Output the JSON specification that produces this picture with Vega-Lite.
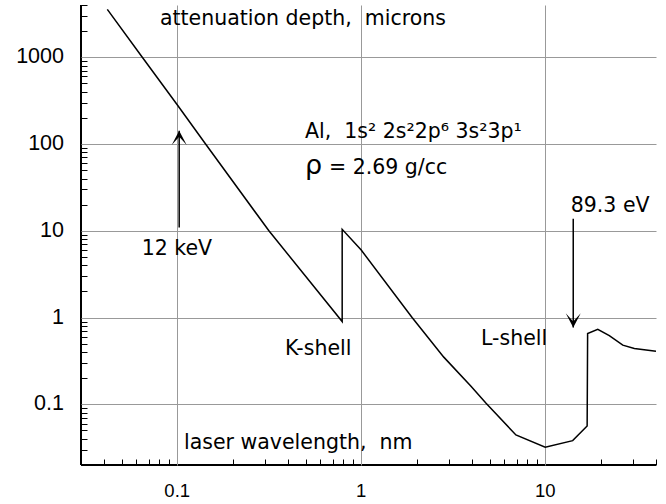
{
  "$schema": "https://vega.github.io/schema/vega-lite/v6.json",
  "width": 575,
  "height": 460,
  "autosize": {"type": "none"},
  "padding": {"left": 81, "top": 5, "right": 10, "bottom": 39},
  "background": "white",
  "config": {"view": {"stroke": null}, "font": "DejaVu Sans"},
  "datasets": {
    "curve": [
      {"x": 0.0417, "y": 3565},
      {"x": 0.0646, "y": 1000},
      {"x": 0.1, "y": 283},
      {"x": 0.1426, "y": 100},
      {"x": 0.315, "y": 10},
      {"x": 0.788, "y": 0.9},
      {"x": 0.788, "y": 10.4},
      {"x": 1, "y": 6.0},
      {"x": 1.89, "y": 1},
      {"x": 2.81, "y": 0.35},
      {"x": 3.95, "y": 0.162},
      {"x": 4.77, "y": 0.103},
      {"x": 6.93, "y": 0.0444},
      {"x": 10, "y": 0.032},
      {"x": 14.1, "y": 0.0382},
      {"x": 16.9, "y": 0.0563},
      {"x": 17.0, "y": 0.655},
      {"x": 19.3, "y": 0.734},
      {"x": 22.3, "y": 0.62},
      {"x": 26.4, "y": 0.481},
      {"x": 30.5, "y": 0.44},
      {"x": 40, "y": 0.41}
    ],
    "labels": [
      {"x": 0.0806, "y": 2355, "t": "attenuation depth,\u00a0 microns"},
      {"x": 0.495, "y": 117.5, "t": "Al,\u00a0 1s² 2s²2p⁶ 3s²3p¹"},
      {"x": 0.668, "y": 45.2, "t": "= 2.69 g/cc"},
      {"x": 0.0641, "y": 5.27, "t": "12 keV"},
      {"x": 13.76, "y": 16.6, "t": "89.3 eV"},
      {"x": 0.3855, "y": 0.371, "t": "K-shell"},
      {"x": 4.48, "y": 0.483, "t": "L-shell"},
      {"x": 0.1089, "y": 0.0303, "t": "laser wavelength,\u00a0 nm"}
    ],
    "symbols": [
      {"x": 0.495, "y": 45.2, "t": "ρ"}
    ],
    "arrows": [
      {"x": 0.1025, "base": 10.9, "tip": 142, "dir": "up"},
      {"x": 14.2, "base": 13.8, "tip": 0.77, "dir": "down"}
    ]
  },
  "resolve": {"axis": {"x": "independent", "y": "independent"}},
  "layer": [
    {
      "data": {"name": "curve"},
      "mark": {"type": "line", "color": "black", "strokeWidth": 1.5},
      "encoding": {
        "x": {
          "field": "x", "type": "quantitative",
          "scale": {"type": "log", "domain": [0.03, 40], "nice": false},
          "axis": {
            "orient": "bottom",
            "title": null,
            "translate": 0,
            "values": [0.1, 1, 10],
            "format": "~g",
            "labelOverlap": false,
            "labelFlush": false,
            "labelFont": "Liberation Sans",
            "labelFontSize": 18.5,
            "labelFontWeight": 400,
            "labelColor": "#000000",
            "labelPadding": 17,
            "ticks": false,
            "tickSize": 0,
            "grid": false,
            "domainColor": "black",
            "domainWidth": 2
          }
        },
        "y": {
          "field": "y", "type": "quantitative",
          "scale": {"type": "log", "domain": [0.02, 4000], "nice": false},
          "axis": {
            "orient": "left",
            "title": null,
            "translate": 0,
            "values": [0.1, 1, 10, 100, 1000],
            "format": "~g",
            "labelOverlap": false,
            "labelFlush": false,
            "labelFont": "Liberation Sans",
            "labelFontSize": 21.5,
            "labelFontWeight": 400,
            "labelColor": "#000000",
            "labelPadding": 17,
            "ticks": false,
            "tickSize": 0,
            "grid": false,
            "domainColor": "black",
            "domainWidth": 2
          }
        },
        "order": {"value": null}
      }
    },
    {
      "data": {"name": "arrows"},
      "mark": {"type": "rule", "color": "black", "strokeWidth": 1.5},
      "encoding": {
        "x": {
          "field": "x", "type": "quantitative",
          "axis": {
            "orient": "bottom",
            "offset": -6,
            "title": null,
            "values": [0.04, 0.05, 0.06, 0.07, 0.08, 0.09, 0.1, 0.2, 0.3, 0.4, 0.5, 0.6, 0.7, 0.8, 0.9, 1, 2, 3, 4, 5, 6, 7, 8, 9, 10, 20, 30, 40],
            "labels": false,
            "domain": false,
            "grid": true,
            "gridColor": "#999999",
            "gridWidth": 1,
            "gridOpacity": {"condition": {"test": "indexof([0.1, 1, 10], datum.value) >= 0", "value": 1}, "value": 0},
            "ticks": true,
            "tickSize": 6,
            "tickColor": {"condition": {"test": "indexof([0.1, 1, 10], datum.value) >= 0", "value": "#999999"}, "value": "black"},
            "tickWidth": 1
          }
        },
        "y": {
          "field": "base", "type": "quantitative",
          "axis": {
            "orient": "left",
            "offset": -6,
            "title": null,
            "values": [0.02, 0.03, 0.04, 0.05, 0.06, 0.07, 0.08, 0.09, 0.1, 0.2, 0.3, 0.4, 0.5, 0.6, 0.7, 0.8, 0.9, 1, 2, 3, 4, 5, 6, 7, 8, 9, 10, 20, 30, 40, 50, 60, 70, 80, 90, 100, 200, 300, 400, 500, 600, 700, 800, 900, 1000, 2000, 3000, 4000],
            "labels": false,
            "domain": false,
            "grid": true,
            "gridColor": "#999999",
            "gridWidth": 1,
            "gridOpacity": {"condition": {"test": "indexof([0.1, 1, 10, 100, 1000], datum.value) >= 0", "value": 1}, "value": 0},
            "ticks": true,
            "tickSize": 6,
            "tickColor": {"condition": {"test": "indexof([0.1, 1, 10, 100, 1000], datum.value) >= 0", "value": "#999999"}, "value": "black"},
            "tickWidth": 1
          }
        },
        "y2": {"field": "tip"}
      }
    },
    {
      "data": {"name": "arrows"},
      "mark": {"type": "point", "filled": true, "color": "black", "opacity": 1, "size": 225, "strokeWidth": 0},
      "encoding": {
        "x": {"field": "x", "type": "quantitative", "axis": null},
        "y": {"field": "tip", "type": "quantitative", "axis": null},
        "shape": {
          "field": "dir", "type": "nominal", "legend": null,
          "scale": {"domain": ["up", "down"], "range": ["M0,0L-1,1.9L0,0.8L1,1.9Z", "M0,0L-1,-1.9L0,-0.8L1,-1.9Z"]}
        }
      }
    },
    {
      "data": {"name": "labels"},
      "mark": {"type": "text", "align": "left", "baseline": "alphabetic", "font": "DejaVu Sans", "fontSize": 20.5, "color": "black"},
      "encoding": {
        "x": {"field": "x", "type": "quantitative", "axis": null},
        "y": {"field": "y", "type": "quantitative", "axis": null},
        "text": {"field": "t", "type": "nominal"}
      }
    },
    {
      "data": {"name": "symbols"},
      "mark": {"type": "text", "align": "left", "baseline": "alphabetic", "font": "DejaVu Sans", "fontSize": 27, "color": "black"},
      "encoding": {
        "x": {"field": "x", "type": "quantitative", "axis": null},
        "y": {"field": "y", "type": "quantitative", "axis": null},
        "text": {"field": "t", "type": "nominal"}
      }
    }
  ]
}
